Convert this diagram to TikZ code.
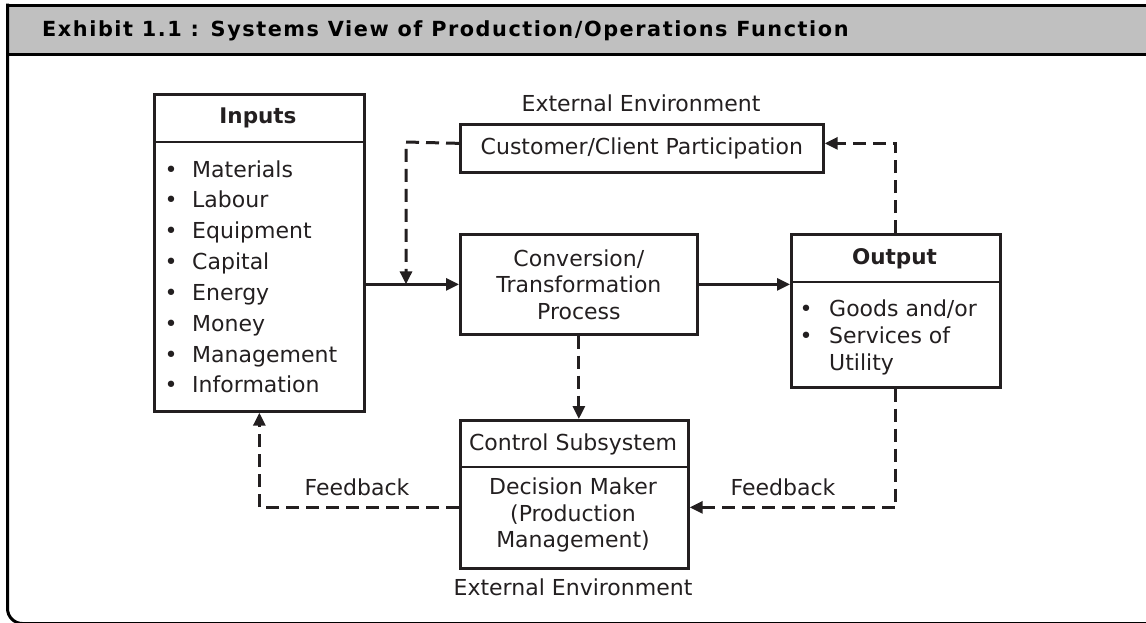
\documentclass[tikz,border=0pt]{standalone}
\usepackage{fontspec}
\setmainfont{DejaVu Sans}
\usetikzlibrary{arrows.meta}
\definecolor{ink}{HTML}{231F20}
\definecolor{bargray}{HTML}{C0C0C0}

\begin{document}
\begin{tikzpicture}[x=1pt, y=-1pt,
  box/.style={draw=ink, line width=2.7pt, inner sep=0pt, anchor=north west},
  rule/.style={draw=ink, line width=2.4pt},
  txt/.style={inner sep=0pt, text=ink, font=\fontsize{22}{26.5}\selectfont},
  head/.style={txt, font=\fontsize{21.5}{26.5}\selectfont\bfseries},
  flow/.style={draw=ink, line width=2.8pt, -{Triangle[length=13pt,width=12pt]}},
  fb/.style={flow, line width=3pt, dash pattern=on 13pt off 7pt},
  frame/.style={draw=black, line width=3pt}
]
\useasboundingbox (0,0) rectangle (1146,622);
\clip (0,0) rectangle (1146,622);

% title bar and frame
\fill[bargray] (7.5,5) rectangle (1150,54.5);
\draw[frame] (7.5,5) -- (1150,5);
\draw[frame] (7.5,54.5) -- (1150,54.5);
\draw[frame, rounded corners=15pt] (7.5,3.5) -- (7.5,623.5) -- (1160,623.5);
\node[txt, font=\fontsize{20.8}{24}\selectfont\bfseries\addfontfeature{LetterSpace=7.5},
  anchor=base west, text=black]
  (title) at (42,36.5) {Exhibit 1.1 : Systems View of Production/Operations Function};

% boxes
\node[box, minimum width=210pt, minimum height=317pt] (inputs)  at (153,93)  {};
\node[box, minimum width=363pt, minimum height=48pt]  (cust)    at (459,123) {};
\node[box, minimum width=237pt, minimum height=100pt] (conv)    at (459,233) {};
\node[box, minimum width=209pt, minimum height=153pt] (output)  at (790,233) {};
\node[box, minimum width=228pt, minimum height=148pt] (control) at (459,419) {};

% header dividers
\coordinate (indiv)  at (153,142);
\coordinate (outdiv) at (790,282);
\coordinate (ctldiv) at (459,467);
\draw[rule] (indiv)  -- (indiv -| inputs.east);
\draw[rule] (outdiv) -- (outdiv -| output.east);
\draw[rule] (ctldiv) -- (ctldiv -| control.east);

% Inputs
\node[head] (inhead) at (258,118) {Inputs};
\foreach \t [count=\i] in {Materials,Labour,Equipment,Capital,Energy,Money,Management,Information}{
  \node[txt, anchor=base] (inbul-\i) at (171,{177+30.85*(\i-1)}) {•};
  \node[txt, anchor=base west] (initem-\i) at (192,{177+30.85*(\i-1)}) {\t};
}

% Customer participation and environment labels
\node[txt] (custtxt) at (cust.center) {Customer/Client Participation};
\node[txt] (envtop) at (641,103) {External Environment};
\node[txt] (envbot) at (573,587) {External Environment};

% Conversion process
\node[txt, align=center] (convtxt) at (conv.center) {Conversion/\\Transformation\\Process};

% Output
\node[head] (outhead) at (894.5,259) {Output};
\node[txt, anchor=base] (outbul-1) at (806,316) {•};
\node[txt, anchor=base west] (outitem-1) at (829,316) {Goods and/or};
\node[txt, anchor=base] (outbul-2) at (806,343) {•};
\node[txt, anchor=base west] (outitem-2) at (829,343) {Services of};
\node[txt, anchor=base west] (outitem-3) at (829,370) {Utility};

% Control subsystem
\node[txt] (ctlhead) at (573,444) {Control Subsystem};
\node[txt, align=center] (ctltxt) at (573,515) {Decision Maker\\(Production\\Management)};

% feedback labels
\node[txt] (fbleft)  at (357,487) {Feedback};
\node[txt] (fbright) at (783,487) {Feedback};

% main flow
\draw[flow] (inputs.east |- conv.west) -- (conv.west);
\draw[flow] (conv.east) -- (output.west |- conv.east);

% customer participation loop
\coordinate (custjoin) at (406,142);
\draw[fb] ([yshift=5pt]cust.west) -- (custjoin) -- (custjoin |- conv.west);
\draw[fb] (output.north) |- ([yshift=5pt]cust.east);

% control loops
\draw[fb] (conv.south) -- (conv.south |- control.north);
\draw[fb] (output.south) |- ([yshift=-13pt]control.east);
\draw[fb] ([yshift=-13pt]control.west) -| (inputs.south);
\end{tikzpicture}
\end{document}
